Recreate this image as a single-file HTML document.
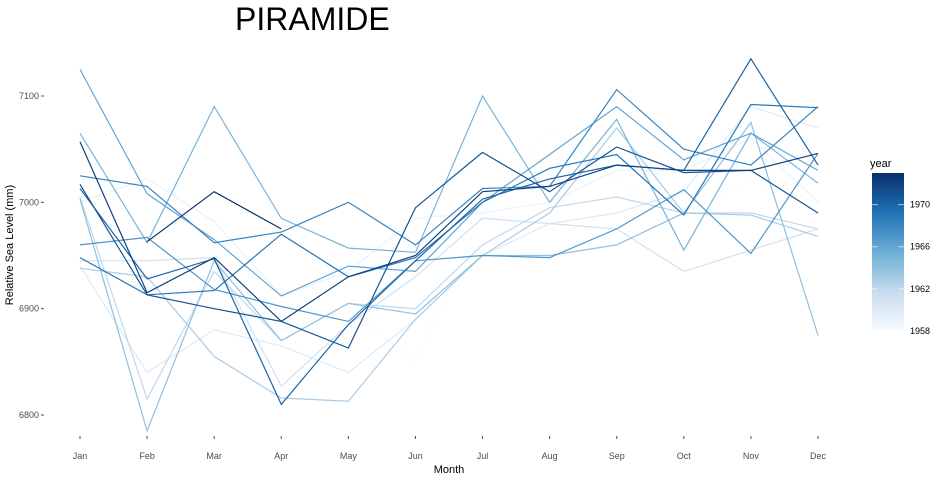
<!DOCTYPE html>
<html><head><meta charset="utf-8">
<style>
html,body{margin:0;padding:0;background:#fff;}
svg{display:block;font-family:"Liberation Sans",sans-serif;}
</style></head>
<body>
<svg id="chart" width="940" height="480" viewBox="0 0 940 480">
<defs>
<linearGradient id="cb" x1="0" y1="1" x2="0" y2="0">
<stop offset="0" stop-color="#f7fbff"/><stop offset="0.25" stop-color="#c6dbef"/>
<stop offset="0.5" stop-color="#6baed6"/><stop offset="0.75" stop-color="#2171b5"/>
<stop offset="1" stop-color="#08306b"/></linearGradient>
</defs>
<text x="235" y="30" font-size="32" fill="#000">PIRAMIDE</text>
<text transform="translate(13,245) rotate(-90)" text-anchor="middle" font-size="11" fill="#000">Relative Sea Level (mm)</text>
<text x="449" y="473" text-anchor="middle" font-size="11" fill="#000">Month</text>
<g id="yaxis"></g>
<g id="xaxis"></g>
<g id="lines"></g>
<g>
<text x="870" y="167" font-size="11" fill="#000">year</text>
<rect x="872" y="173" width="32" height="158" fill="url(#cb)"/>
<g id="legticks"></g>
</g>
</svg>
<script>
const months=["Jan","Feb","Mar","Apr","May","Jun","Jul","Aug","Sep","Oct","Nov","Dec"];
const yTicks=[6800,6900,7000,7100];
const legendTicks=[1958,1962,1966,1970];
const years=[1958,1959,1960,1961,1962,1963,1964,1965,1966,1967,1968,1969,1970,1971,1972,1973];
const s1958=[6965,6945,6950,6880,6900,6850,6990,7070,7020,6990,7020,7000];
const s1959=[7000,7022,6982,6912,6935,6985,6990,7000,7030,7030,7060,7000];
const s1960=[6940,6840,6880,6865,6840,6890,6950,6980,6990,7010,7090,7070];
const s1961=[6945,6945,6948,6827,6885,6930,6985,6980,6975,6935,6955,6975];
const s1962=[7005,6815,6935,6870,6905,6900,6960,6995,7005,6990,6990,6975];
const s1963=[6938,6930,6855,6816,6813,6890,6950,6990,7070,6990,6988,6968];
const s1964=[7003,6785,6945,6870,6905,6895,6950,6950,6960,6990,7075,6875];
const s1965=[7065,6962,7090,6985,6957,6953,7100,7000,7078,6955,7065,7018];
const s1966=[7125,7008,6965,6912,6940,6935,7000,7045,7090,7040,7065,7030];
const s1967=[6960,6967,6918,6902,6888,6945,6950,6948,6975,7012,6952,7046];
const s1968=[7025,7015,6962,6972,7000,6960,7013,7015,7106,7050,7035,7090];
const s1969=[6948,6913,6917,6970,6930,6948,7000,7032,7045,6988,7092,7089];
const s1970=[7013,6928,6947,6810,6885,6945,7003,7022,7035,7030,7135,7035];
const s1971=[7017,6913,6900,6888,6863,6995,7047,7010,7052,7028,7030,6990];
const s1972=[7057,6915,6948,6888,6930,6950,7010,7015,7035,7030,7030,7046];
const s1973=[null,6963,7010,6975,null,null,null,null,null,null,null,null];
const series=[s1958,s1959,s1960,s1961,s1962,s1963,s1964,s1965,s1966,s1967,s1968,s1969,s1970,s1971,s1972,s1973];

const NS="http://www.w3.org/2000/svg";
const xS=i=>80+i*(818-80)/11;
const yS=v=>96+(7100-v)*(415-96)/300;
const legY=yr=>331-(yr-1958)*(158/15);
const stops=[[247,251,255],[198,219,239],[107,174,214],[33,113,181],[8,48,107]];
function col(yr){let t=(yr-1958)/15*4;let i=Math.min(3,Math.floor(t));let f=t-i;
const a=stops[i],b=stops[i+1];return "rgb("+a.map((c,k)=>Math.round(c+(b[k]-c)*f)).join(",")+")";}
function mk(tag,attrs,parent){const e=document.createElementNS(NS,tag);for(const k in attrs)e.setAttribute(k,attrs[k]);parent.appendChild(e);return e;}

const ya=document.getElementById("yaxis");
yTicks.forEach(v=>{
 const t=mk("text",{x:39,y:yS(v)+3,"text-anchor":"end","font-size":"9",fill:"#4d4d4d"},ya);
 
 
 t.textContent=v;
 const l=mk("line",{x1:41,x2:44,y1:yS(v),y2:yS(v),stroke:"#4d4d4d","stroke-width":"1"},ya);
 
 
});
const xa=document.getElementById("xaxis");
months.forEach((m,i)=>{
 const l=mk("line",{x1:xS(i),x2:xS(i),y1:436,y2:439,stroke:"#4d4d4d","stroke-width":"1"},xa);
 
 
 const t=mk("text",{x:xS(i),y:459,"text-anchor":"middle","font-size":"9",fill:"#4d4d4d"},xa);
 
 
 t.textContent=m;
});
const lg=document.getElementById("lines");
series.forEach((s,k)=>{
 let d="",pen=false;
 s.forEach((v,i)=>{if(v==null){pen=false;return;}d+=(pen?"L":"M")+xS(i).toFixed(1)+","+yS(v).toFixed(1);pen=true;});
 const p=mk("path",{d:d,fill:"none",stroke:col(years[k]),"stroke-width":"1.2"},lg);
 
 
});
const lt=document.getElementById("legticks");
legendTicks.forEach(yr=>{
 const y=legY(yr);
 const a=mk("line",{x1:872,x2:878,y1:y,y2:y,stroke:"#fff","stroke-opacity":"0.6"},lt);
 
 
 const b=mk("line",{x1:898,x2:904,y1:y,y2:y,stroke:"#fff","stroke-opacity":"0.6"},lt);
 
 
 const t=mk("text",{x:910,y:y+3,"font-size":"9",fill:"#000"},lt);
 
 
 t.textContent=yr;
});
</script>
</body></html>
